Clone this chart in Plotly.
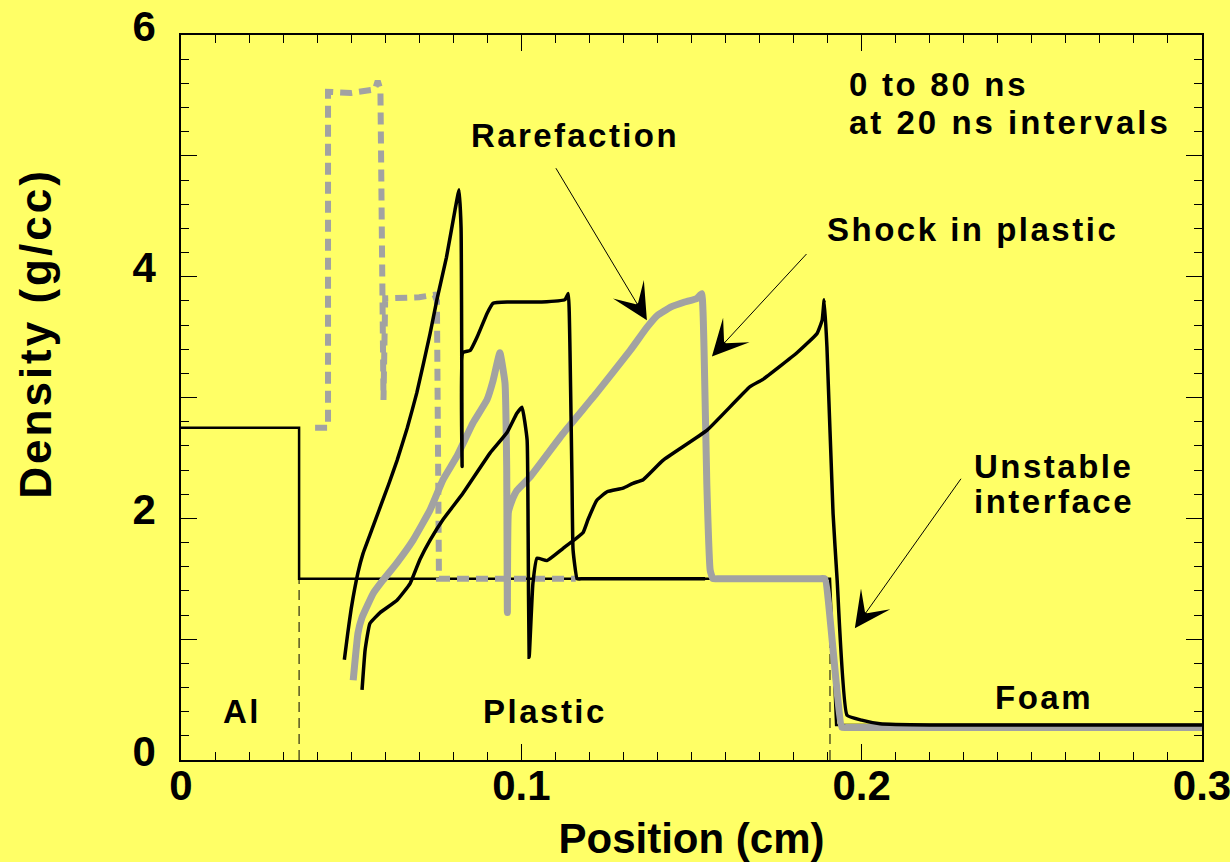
import plotly.graph_objects as go

# ---------------- data ----------------
# t = 0 ns (initial state)
x_t0 = [0.0, 0.0347, 0.0347, 0.1907, 0.1925, 0.3]
rho_t0 = [2.75, 2.75, 1.5, 1.5, 0.29, 0.29]

# material interfaces at t = 0 (dashed guides)
iface_x = [0.0347, 0.1907]
iface_top = [1.5, 1.0]

# t = 20 ns (gray dashed)
x_t20 = [0.0394, 0.0432, 0.0432, 0.0500, 0.0570, 0.0578, 0.0586, 0.0590, 0.0595,
         0.0600, 0.0700, 0.0745, 0.0752, 0.0758, 0.1160]
rho_t20 = [2.75, 2.75, 5.53, 5.52, 5.55, 5.62, 5.55, 4.00, 2.98,
           3.82, 3.83, 3.85, 3.80, 1.50, 1.50]

# t = 40 ns (black)
x_t40 = [0.0480, 0.0490, 0.0500, 0.0520, 0.0535, 0.0560, 0.0585, 0.0610, 0.0635,
         0.0665, 0.0693, 0.0732, 0.0752, 0.0780, 0.0805, 0.0817, 0.0823, 0.0826,
         0.0828, 0.0850, 0.0870, 0.0900, 0.0917, 0.0960, 0.1000, 0.1060, 0.1128,
         0.1138, 0.1143, 0.1149, 0.1152, 0.1164, 0.1180, 0.1300, 0.1420, 0.1540]
rho_t40 = [0.83, 1.05, 1.25, 1.55, 1.71, 1.90, 2.09, 2.28, 2.48,
           2.75, 3.04, 3.53, 3.81, 4.16, 4.55, 4.72, 4.40, 2.43,
           3.37, 3.39, 3.50, 3.70, 3.78, 3.79, 3.79, 3.79, 3.81,
           3.86, 3.39, 2.29, 1.74, 1.50, 1.50, 1.50, 1.50, 1.50]

# t = 60 ns (gray thick)
x_t60 = [0.0506, 0.0520, 0.0532, 0.0565, 0.0594, 0.0634, 0.0682, 0.0732, 0.0770,
         0.0810, 0.0858, 0.0899, 0.0917, 0.0937, 0.0952, 0.0957, 0.0959, 0.0962,
         0.0973, 0.0987, 0.1025, 0.1122, 0.1222, 0.1320, 0.1369, 0.1400, 0.1440,
         0.1480, 0.1516, 0.1530, 0.1537, 0.1545, 0.1555, 0.1563, 0.1580, 0.1700,
         0.1800, 0.1875, 0.1892, 0.1942, 0.1960, 0.2100, 0.2500, 0.2800, 0.3000]
rho_t60 = [0.66, 1.05, 1.18, 1.38, 1.49, 1.63, 1.82, 2.07, 2.32,
           2.51, 2.79, 2.98, 3.14, 3.37, 3.12, 2.43, 1.22, 2.05,
           2.15, 2.23, 2.34, 2.70, 3.04, 3.39, 3.58, 3.68, 3.75,
           3.79, 3.82, 3.86, 3.39, 2.29, 1.57, 1.50, 1.50, 1.50,
           1.50, 1.50, 1.50, 0.27, 0.27, 0.27, 0.27, 0.27, 0.27]

# t = 80 ns (black)
x_t80 = [0.0532, 0.0541, 0.0555, 0.0585, 0.0634, 0.0673, 0.0702, 0.0732, 0.0770,
         0.0829, 0.0908, 0.0958, 0.0987, 0.1002, 0.1017, 0.1020, 0.1023, 0.1034,
         0.1046, 0.1075, 0.1122, 0.1181, 0.1196, 0.1222, 0.1252, 0.1299, 0.1328,
         0.1358, 0.1416, 0.1546, 0.1672, 0.1710, 0.1810, 0.1869, 0.1884, 0.1890,
         0.1898, 0.1916, 0.1928, 0.1957, 0.2000, 0.2054, 0.2200, 0.2500, 0.2800,
         0.3000]
rho_t80 = [0.58, 0.91, 1.13, 1.22, 1.32, 1.46, 1.66, 1.82, 1.99,
           2.21, 2.54, 2.71, 2.87, 2.92, 2.65, 1.88, 0.85, 1.46,
           1.67, 1.65, 1.75, 1.88, 1.99, 2.15, 2.22, 2.25, 2.29,
           2.32, 2.48, 2.73, 3.09, 3.15, 3.37, 3.53, 3.64, 3.81,
           3.42, 2.04, 1.49, 0.37, 0.33, 0.30, 0.29, 0.29, 0.29,
           0.29]

x_ticks = [0, 0.1, 0.2, 0.3]
x_ticktext = ["0", "0.1", "0.2", "0.3"]
y_ticks = [0, 1, 2, 3, 4, 5, 6]
y_ticktext = ["0", "", "2", "", "4", "", "6"]

# ---------------- styles ----------------
BG = "#FFFF66"
GRAY = "#A2A2A2"
FONT = "Liberation Sans"
SMOOTH = dict(shape="spline", smoothing=0.35)

fig = go.Figure()

fig.add_trace(go.Scatter(x=x_t0, y=rho_t0, mode="lines",
                         line=dict(color="black", width=2.5), hoverinfo="skip"))
for xi, top in zip(iface_x, iface_top):
    fig.add_trace(go.Scatter(x=[xi, xi], y=[0, top], mode="lines",
                             line=dict(color="black", width=1, dash="10px,6px"),
                             hoverinfo="skip"))
fig.add_trace(go.Scatter(x=x_t20, y=rho_t20, mode="lines",
                         line=dict(color=GRAY, width=6, dash="12px,7px")))
fig.add_trace(go.Scatter(x=x_t60, y=rho_t60, mode="lines",
                         line=dict(color=GRAY, width=7, **SMOOTH)))
fig.add_trace(go.Scatter(x=x_t40, y=rho_t40, mode="lines",
                         line=dict(color="black", width=3.5, **SMOOTH)))
fig.add_trace(go.Scatter(x=x_t80, y=rho_t80, mode="lines",
                         line=dict(color="black", width=3.5, **SMOOTH)))

def sp(t, ls=2.5):
    return f'<b><span style="letter-spacing:{ls}px">{t}</span></b>'

ann_font = dict(family=FONT, size=33, color="black")
texts = [
    ("0 to 80 ns", 0.1957, 5.59, "left", 2.7),
    ("at 20 ns intervals", 0.1957, 5.28, "left", 3.0),
    ("Rarefaction", 0.1158, 5.17, "center", 2.4),
    ("Shock in plastic", 0.2325, 4.39, "center", 2.5),
    ("Unstable", 0.2324, 2.43, "left", 2.5),
    ("interface", 0.2324, 2.14, "left", 2.5),
    ("Al", 0.018, 0.40, "center", 2.5),
    ("Plastic", 0.107, 0.40, "center", 2.5),
    ("Foam", 0.2536, 0.52, "center", 2.5),
]
for t, x, y, xa, ls in texts:
    fig.add_annotation(x=x, y=y, xref="x", yref="y", text=sp(t, ls),
                       showarrow=False, xanchor=xa, yanchor="middle", font=ann_font)

arrows = [
    (0.1369, 3.64, 0.1099, 4.91),
    (0.1560, 3.34, 0.1842, 4.20),
    (0.1980, 1.09, 0.2295, 2.34),
]
for x, y, ax, ay in arrows:
    fig.add_annotation(x=x, y=y, ax=ax, ay=ay, xref="x", yref="y", axref="x", ayref="y",
                       text="", showarrow=True, arrowhead=3, arrowsize=6,
                       arrowwidth=1, arrowcolor="black", standoff=0, startstandoff=0)

# y-axis title as annotation (it is offset upward in the reference)
fig.add_annotation(x=-0.142, y=0.588, xref="paper", yref="paper",
                   text=sp("Density (g/cc)", 3.0), textangle=-90, showarrow=False,
                   xanchor="center", yanchor="middle",
                   font=dict(family=FONT, size=44, color="black"))

axis_common = dict(
    showline=True, linecolor="black", linewidth=1.5, mirror="ticks",
    ticks="inside", ticklen=16, tickwidth=1, tickcolor="black",
    showgrid=False, zeroline=False, automargin=False,
    ticklabeloverflow="allow",
    tickfont=dict(family=FONT, size=42, color="black", weight="bold"),
)

fig.update_xaxes(range=[0, 0.30001], tickmode="array", tickvals=x_ticks, ticktext=x_ticktext,
                 ticklabelstandoff=-12,
                 minor=dict(tickmode="linear", tick0=0, dtick=0.01, ticks="inside",
                            ticklen=8, tickwidth=1, tickcolor="black"),
                 title=dict(text="<b>Position (cm)</b>", standoff=26,
                            font=dict(family=FONT, size=42, color="black")),
                 **axis_common)
fig.update_yaxes(range=[0, 6], tickmode="array", tickvals=y_ticks, ticktext=y_ticktext,
                 ticklabelstandoff=15, ticklabelshift=-9,
                 minor=dict(tickmode="linear", tick0=0, dtick=0.2, ticks="inside",
                            ticklen=8, tickwidth=1, tickcolor="black"),
                 **axis_common)

fig.update_layout(
    width=1230, height=862,
    margin=dict(l=181, r=28, t=35, b=102),
    paper_bgcolor=BG, plot_bgcolor=BG,
    showlegend=False,
)

fig.write_html("out.html")
